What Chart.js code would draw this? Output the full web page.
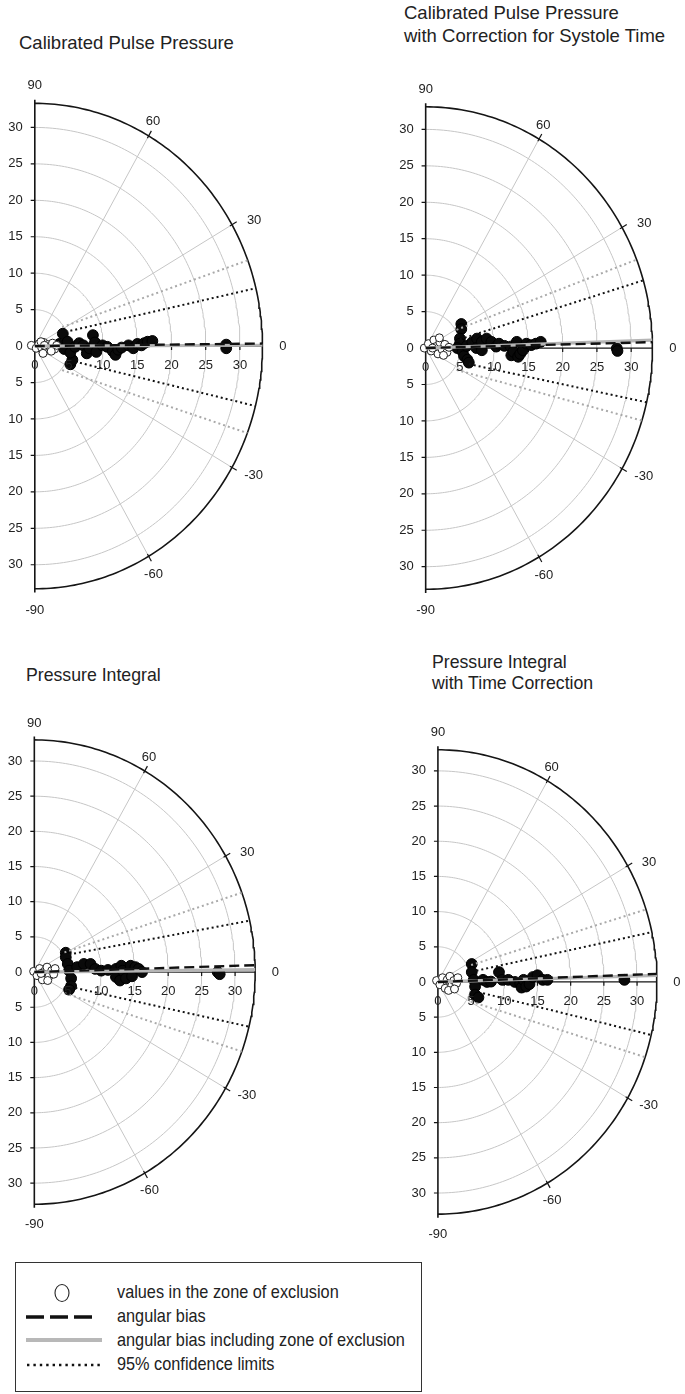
<!DOCTYPE html>
<html><head><meta charset="utf-8">
<script src="https://cdn.jsdelivr.net/npm/chart.js@4"></script>
<style>
body{margin:0;background:#fff;width:685px;height:1394px;position:relative;overflow:hidden;font-family:"Liberation Sans",Arial,sans-serif;color:#222}
canvas{position:absolute}
.t{position:absolute;white-space:nowrap}
#legend{position:absolute;left:15px;top:1262px;width:405px;height:128px;border:1px solid #333}
#legtext{position:absolute;left:117px;top:1280px;font-size:18.5px;line-height:24px;transform:scaleX(0.88);transform-origin:0 0;white-space:nowrap;color:#222}
#legsvg{position:absolute;left:0;top:1262px}
</style></head><body>

<div class="t" style="left:19px;top:34px;font-size:18.5px;line-height:18.5px">Calibrated Pulse Pressure</div>
<div class="t" style="left:404px;top:1px;font-size:18.5px;line-height:23px">Calibrated Pulse Pressure<br>with Correction for Systole Time</div>
<div class="t" style="left:26px;top:667px;font-size:17.7px;line-height:17.7px">Pressure Integral</div>
<div class="t" style="left:432px;top:652px;font-size:17.7px;line-height:21px">Pressure Integral<br>with Time Correction</div>

<canvas id="c1" width="345" height="590" style="left:0;top:55px"></canvas>
<canvas id="c2" width="305" height="590" style="left:380px;top:55px"></canvas>
<canvas id="c3" width="345" height="560" style="left:0;top:695px"></canvas>
<canvas id="c4" width="285" height="560" style="left:400px;top:700px"></canvas>

<div id="legend"></div>
<svg id="legsvg" width="130" height="130">
  <ellipse cx="62" cy="31" rx="7" ry="8.5" fill="#fff" stroke="#222" stroke-width="1.1"/>
  <line x1="26" y1="55" x2="92" y2="55" stroke="#111" stroke-width="3.5" stroke-dasharray="18,6"/>
  <line x1="26" y1="78" x2="102" y2="78" stroke="#b8b8b8" stroke-width="4"/>
  <line x1="27" y1="103" x2="102" y2="103" stroke="#111" stroke-width="2.5" stroke-dasharray="2.4,4"/>
</svg>
<div id="legtext">values in the zone of exclusion<br>angular bias<br>angular bias including zone of exclusion<br>95% confidence limits</div>

<script>
// ---- shared axis values ----
const radialTicks = [0, 5, 10, 15, 20, 25, 30];
const angleTicks = [90, 60, 30, 0, -30, -60, -90];
const gridRadii = [5, 10, 15, 20, 25, 30];
const spokeAngles = [60, 30, -30, -60];

// ---- Panel 1: Calibrated Pulse Pressure ----
const p1BlackX = [4.1,3.6,4.3,4.8,5.2,5.5,5.2,5.9,6.5,7.1,7.6,8.0,8.5,8.8,9.0,9.9,10.6,11.4,11.8,12.2,12.7,13.7,14.4,15.0,15.6,16.0,16.5,17.2,28.0,28.0];
const p1BlackY = [1.7,0.3,-0.4,0.6,-2.5,-1.9,-0.9,-0.1,0.4,0.1,-1.0,-0.3,1.5,0.5,-0.8,0.1,-0.1,-0.7,-1.2,-0.5,-0.2,0.1,-0.3,0.3,0.1,0.4,0.6,0.7,0.2,-0.3];
const p1OpenX = [-0.5,0.2,0.6,1.0,1.3,1.6,1.9,2.2,2.6,2.9,3.2,0.9,2.4,1.4,1.2];
const p1OpenY = [0.1,-0.3,0.3,-0.2,0.5,-0.6,0.2,-0.1,0.4,-0.4,0.1,0.6,-0.7,0.1,-1.0];
const p1BiasAngle = 0.6, p1BiasInclAngle = 0.2;
const p1CiBlackStartX = [5.2, 6.6], p1CiBlackStartY = [2.1, -2.3], p1CiBlackAngle = [13.8, -14.3];
const p1CiGrayStartX = [4.0, 4.0], p1CiGrayStartY = [2.6, -3.3], p1CiGrayAngle = [20.7, -21.0];

// ---- Panel 2: with Correction for Systole Time ----
const p2BlackX = [5.2,5.2,5.0,5.0,4.6,5.4,5.6,6.1,6.3,6.0,6.8,7.5,7.4,8.2,8.2,8.9,9.6,10.3,10.7,11.5,12.4,12.5,12.8,13.3,13.5,13.8,14.2,14.7,15.4,16.1,16.8,27.9,28.0];
const p2BlackY = [3.3,2.6,1.3,0.6,0.0,-0.5,-1.1,-1.6,-2.0,0.3,0.8,1.3,0.0,0.85,-0.3,1.3,0.85,0.2,0.6,0.3,0.2,-1.0,-0.5,0.85,-1.2,-0.8,-0.3,0.6,0.4,0.6,0.85,-0.05,-0.4];
const p2OpenX = [-0.2,0.4,0.8,1.2,1.5,1.8,2.1,2.4,2.8,3.1,3.4,1.0,2.0,2.6];
const p2OpenY = [0.0,0.6,-0.4,1.1,0.2,-0.8,0.8,-0.2,0.5,-0.6,0.1,0.0,1.4,-1.0];
const p2BiasAngle = 1.4, p2BiasInclAngle = 1.9;
const p2CiBlackStartX = [5.0, 6.3], p2CiBlackStartY = [1.2, -2.2], p2CiBlackAngle = [16.3, -13.0];
const p2CiGrayStartX = [4.5, 4.5], p2CiGrayStartY = [2.5, -3.0], p2CiGrayAngle = [21.5, -17.5];

// ---- Panel 3: Pressure Integral ----
const p3BlackX = [4.7,4.7,5.0,5.2,5.5,5.5,5.2,6.4,7.4,8.4,9.1,10.0,11.0,12.2,12.2,12.8,13.0,13.2,13.7,14.4,14.6,15.1,15.6,16.1,27.4,27.7];
const p3BlackY = [2.75,2.1,1.15,0.2,-0.9,-2.0,-2.5,0.7,1.15,1.15,0.45,0.2,0.3,0.45,-0.7,-1.2,0.9,0.2,-0.9,0.9,-0.6,0.7,0.45,0.0,0.0,-0.3];
const p3OpenX = [-0.1,0.4,0.8,1.2,1.5,1.9,2.2,2.6,2.9,3.1,1.0,2.0];
const p3OpenY = [0.1,-0.5,0.5,-1.1,0.1,0.7,-0.6,0.2,-0.3,0.5,-0.2,-1.2];
const p3BiasAngle = 1.7, p3BiasInclAngle = 0.6;
const p3CiBlackStartX = [5.2, 5.4], p3CiBlackStartY = [2.5, -2.1], p3CiBlackAngle = [12.8, -13.6];
const p3CiGrayStartX = [4.5, 4.5], p3CiGrayStartY = [2.8, -3.0], p3CiGrayAngle = [20.0, -20.0];

// ---- Panel 4: Pressure Integral with Time Correction ----
const p4BlackX = [5.1,5.1,5.4,5.6,5.6,6.1,6.8,7.4,8.0,9.2,9.7,10.6,11.6,12.4,12.6,12.9,13.3,13.8,14.3,15.0,15.8,16.5,28.1];
const p4BlackY = [2.55,1.4,0.3,-0.65,-1.8,-2.2,0.3,0.0,0.05,1.4,0.3,0.3,0.0,-0.2,-0.8,0.3,-0.65,-0.3,0.7,0.95,0.3,0.3,0.3];
const p4OpenX = [-0.2,0.3,0.7,1.1,1.4,1.8,2.1,2.4,2.8,3.0,1.6,2.5];
const p4OpenY = [0.2,-0.4,0.6,-0.9,0.3,0.8,-0.5,0.2,-0.2,0.6,-1.2,-1.0];
const p4BiasAngle = 2.0, p4BiasInclAngle = 1.6;
const p4CiBlackStartX = [5.8, 6.8], p4CiBlackStartY = [1.6, -1.6], p4CiBlackAngle = [12.4, -13.2];
const p4CiGrayStartX = [5.0, 5.0], p4CiGrayStartY = [2.4, -2.8], p4CiGrayAngle = [18.2, -18.9];

// ---- helpers ----
const rad = d => d * Math.PI / 180;
const polar = (r, deg) => ({ x: r * Math.cos(rad(deg)), y: r * Math.sin(rad(deg)) });
function arc(r, from, to) {
  const pts = [];
  for (let a = from; a <= to + 1e-9; a += 1) pts.push(polar(r, a));
  return pts;
}
const zip = (xs, ys) => xs.map((x, i) => ({ x, y: ys[i] }));
const lineDs = (data, color, width, dash, order) => ({
  type: 'line', data, borderColor: color, borderWidth: width, borderDash: dash || [],
  pointRadius: 0, fill: false, tension: 0, order, clip: false, spanGaps: false, borderCapStyle: 'butt'
});

const angleLabelPos = { '90': [2.4, 90], '60': [2.0, 60.7], '30': [3.1, 28.2], '0': [3.0, 0], '-30': [3.3, -29], '-60': [2.5, -61], '-90': [2.9, -90] };

function makePanel(id, geo, d) {
  const R = geo.R;
  const ds = [];
  gridRadii.forEach(r => ds.push(lineDs(arc(r, -90, 90), '#c6c6c6', 1, null, 30)));
  spokeAngles.forEach(a => ds.push(lineDs([polar(0, a), polar(R, a)], '#c6c6c6', 1, null, 30)));
  ds.push(lineDs(arc(R, -90, 90), '#151515', 1.6, null, 20));
  spokeAngles.forEach(a => ds.push(lineDs([polar(R - 0.35, a), polar(R + 0.8, a)], '#151515', 1.2, null, 20)));
  ds.push(lineDs([{ x: 0, y: -R - 0.5 }, { x: 0, y: R + 0.5 }], '#151515', 1.6, null, 20));
  const yt = [];
  radialTicks.forEach(v => {
    [v, -v].forEach(s => { yt.push({ x: -0.6, y: s }, { x: 0, y: s }, { x: NaN, y: NaN }); });
  });
  ds.push(lineDs(yt, '#151515', 1.2, null, 20));
  ds.push(lineDs([{ x: 0, y: 0 }, { x: R, y: 0 }], '#151515', 1.2, null, 20));
  const xt = [];
  radialTicks.forEach(v => { if (v > 0) xt.push({ x: v, y: 0 }, { x: v, y: -0.55 }, { x: NaN, y: NaN }); });
  ds.push(lineDs(xt, '#151515', 1.2, null, 20));
  ds.push({ type: 'scatter', data: zip(d.blackX, d.blackY), pointRadius: 5.4, pointBackgroundColor: '#0a0a0a', pointBorderColor: '#000', pointBorderWidth: 1, order: 10, clip: false });
  ds.push({ type: 'scatter', data: zip(d.openX, d.openY), pointRadius: 4, pointBackgroundColor: '#fff', pointBorderColor: '#222', pointBorderWidth: 1, order: 8, clip: false });
  ds.push(lineDs([polar(0, d.biasIncl), polar(R, d.biasIncl)], '#b5b5b5', 3.2, null, 5));
  ds.push(lineDs([polar(0, d.bias), polar(R, d.bias)], '#111', 2.4, [10, 5], 4));
  d.grayX.forEach((sx, i) => ds.push(lineDs([{ x: sx, y: d.grayY[i] }, polar(R, d.grayA[i])], '#a9a9a9', 2, [2, 3], 6)));
  d.ciX.forEach((sx, i) => ds.push(lineDs([{ x: sx, y: d.ciY[i] }, polar(R, d.ciA[i])], '#111', 2, [2, 3], 6)));

  const labels = {
    id: 'labels_' + id,
    afterDatasetsDraw(chart) {
      const { ctx } = chart; const xs = chart.scales.x, ys = chart.scales.y;
      const px = v => xs.getPixelForValue(v), py = v => ys.getPixelForValue(v);
      ctx.save();
      ctx.font = '13px "Liberation Sans", Arial, sans-serif';
      ctx.fillStyle = '#222';
      ctx.textBaseline = 'middle';
      ctx.textAlign = 'right';
      radialTicks.forEach(v => {
        ctx.fillText(String(v), px(0) - 12, py(v));
        if (v > 0) ctx.fillText(String(v), px(0) - 12, py(-v));
      });
      ctx.textAlign = 'center';
      radialTicks.forEach(v => ctx.fillText(String(v), px(v), py(0) + 19));
      angleTicks.forEach(a => {
        const [off, ang] = angleLabelPos[String(a)];
        const p = polar(R + off, ang);
        ctx.fillText(String(a), px(p.x), py(p.y));
      });
      ctx.restore();
    }
  };

  const canvas = document.getElementById(id);
  const W = canvas.width, H = canvas.height;
  const left = parseFloat(canvas.style.left), top = parseFloat(canvas.style.top);
  const xmin = (left - geo.ox) / geo.sx, xmax = xmin + W / geo.sx;
  const ymax = (geo.oy - top) / geo.sy, ymin = ymax - H / geo.sy;
  new Chart(canvas, {
    type: 'scatter',
    data: { datasets: ds },
    options: {
      responsive: false, animation: false, events: [], devicePixelRatio: 1,
      layout: { padding: 0 },
      plugins: { legend: { display: false }, tooltip: { enabled: false } },
      scales: {
        x: { type: 'linear', display: false, min: xmin, max: xmax },
        y: { type: 'linear', display: false, min: ymin, max: ymax }
      }
    },
    plugins: [labels]
  });
}

makePanel('c1', { ox: 29.5, oy: 346, sx: 7.1, sy: 7.45, R: 33.3 },
  { blackX: p1BlackX, blackY: p1BlackY, openX: p1OpenX, openY: p1OpenY, bias: p1BiasAngle, biasIncl: p1BiasInclAngle,
    ciX: p1CiBlackStartX, ciY: p1CiBlackStartY, ciA: p1CiBlackAngle, grayX: p1CiGrayStartX, grayY: p1CiGrayStartY, grayA: p1CiGrayAngle });
makePanel('c2', { ox: 421, oy: 348, sx: 7.15, sy: 7.45, R: 33.1 },
  { blackX: p2BlackX, blackY: p2BlackY, openX: p2OpenX, openY: p2OpenY, bias: p2BiasAngle, biasIncl: p2BiasInclAngle,
    ciX: p2CiBlackStartX, ciY: p2CiBlackStartY, ciA: p2CiBlackAngle, grayX: p2CiGrayStartX, grayY: p2CiGrayStartY, grayA: p2CiGrayAngle });
makePanel('c3', { ox: 29, oy: 972, sx: 6.95, sy: 7.2, R: 33 },
  { blackX: p3BlackX, blackY: p3BlackY, openX: p3OpenX, openY: p3OpenY, bias: p3BiasAngle, biasIncl: p3BiasInclAngle,
    ciX: p3CiBlackStartX, ciY: p3CiBlackStartY, ciA: p3CiBlackAngle, grayX: p3CiGrayStartX, grayY: p3CiGrayStartY, grayA: p3CiGrayAngle });
makePanel('c4', { ox: 433, oy: 982, sx: 6.95, sy: 7.2, R: 33 },
  { blackX: p4BlackX, blackY: p4BlackY, openX: p4OpenX, openY: p4OpenY, bias: p4BiasAngle, biasIncl: p4BiasInclAngle,
    ciX: p4CiBlackStartX, ciY: p4CiBlackStartY, ciA: p4CiBlackAngle, grayX: p4CiGrayStartX, grayY: p4CiGrayStartY, grayA: p4CiGrayAngle });
</script>
</body></html>
